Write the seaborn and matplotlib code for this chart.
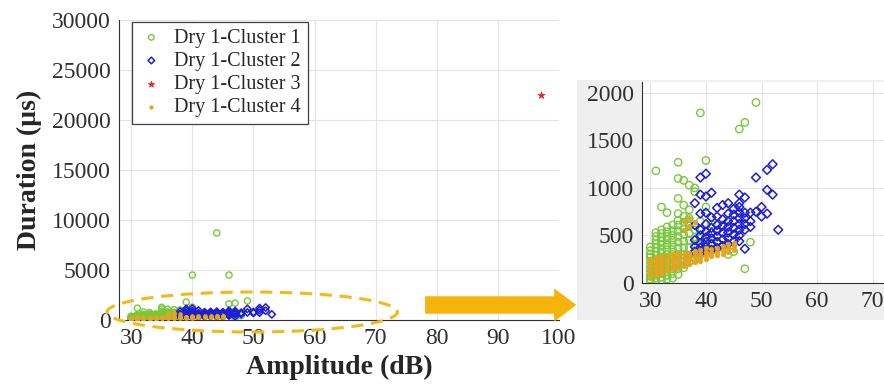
import numpy as np
import pandas as pd
import seaborn as sns
import matplotlib
matplotlib.use("Agg")
import matplotlib.pyplot as plt
from matplotlib.patches import Ellipse, FancyArrowPatch

# Cluster 1 (green circles): amplitude (dB), duration (us)
c1_amp = [44, 40, 46, 49, 39, 46, 47, 31, 35, 40, 35, 36, 37, 38, 38, 32, 33, 35, 35, 36,
          37, 40, 48, 47, 39, 41,
          30, 30, 30, 30, 30, 30, 30, 30, 30, 30, 30,
          31, 31, 31, 31, 31, 31, 31, 31, 31, 31, 31, 31, 31, 31,
          32, 32, 32, 32, 32, 32, 32, 32, 32, 32, 32, 32, 32, 32,
          33, 33, 33, 33, 33, 33, 33, 33, 33, 33, 33, 33, 33,
          34, 34, 34, 34, 34, 34, 34, 34, 34, 34, 34, 34,
          35, 35, 35, 35, 35, 35, 35, 35, 35, 35,
          36, 36, 36, 36, 36, 36, 36, 36, 36,
          37, 37, 37, 37, 37, 37, 37,
          38, 38, 38, 38, 38, 39, 39, 39, 39, 40, 40, 40, 41, 41, 42, 42, 43, 44, 45]
c1_dur = [8700, 4500, 4500, 1900, 1790, 1620, 1690, 1180, 1270, 1290, 1100, 1080, 1030, 1000, 960, 800, 740, 890, 730, 820,
          770, 800, 430, 150, 650, 620,
          10, 40, 70, 110, 150, 190, 230, 270, 300, 340, 380,
          20, 50, 80, 120, 160, 200, 240, 290, 330, 370, 410, 450, 490, 530,
          30, 60, 100, 140, 180, 220, 270, 310, 350, 400, 440, 480, 520, 560,
          40, 80, 120, 160, 210, 250, 300, 350, 400, 450, 490, 540, 590,
          50, 100, 150, 200, 250, 300, 350, 400, 450, 500, 550, 610,
          90, 150, 220, 300, 370, 430, 490, 550, 610, 660,
          160, 230, 300, 370, 440, 510, 570, 640, 700,
          220, 290, 370, 450, 520, 600, 680,
          260, 330, 410, 480, 560, 300, 380, 470, 560, 320, 400, 470, 340, 420, 360, 440, 380, 300, 330]

# Cluster 2 (blue diamonds)
c2_amp = [38, 38, 38, 38, 38,
          39, 39, 39, 39, 39, 39, 39, 39,
          40, 40, 40, 40, 40, 40, 40, 40, 40,
          41, 41, 41, 41, 41, 41, 41,
          42, 42, 42, 42, 42, 42, 42,
          43, 43, 43, 43, 43, 43,
          44, 44, 44, 44, 44, 44, 44,
          45, 45, 45, 45, 45, 45,
          46, 46, 46, 46, 46, 46, 46, 46, 46,
          47, 47, 47, 47, 47, 47,
          48, 48, 48, 49, 49, 50, 50, 51, 51, 51, 52, 52, 53]
c2_dur = [330, 380, 450, 610, 840,
          320, 370, 420, 500, 560, 730, 930, 1110,
          330, 380, 430, 480, 540, 620, 740, 910, 1150,
          350, 410, 470, 530, 580, 690, 950,
          370, 430, 490, 550, 610, 700, 790,
          390, 460, 530, 600, 670, 820,
          410, 470, 530, 590, 650, 730, 840,
          440, 510, 580, 650, 720, 780,
          440, 500, 560, 620, 680, 740, 800, 840, 930,
          360, 560, 620, 680, 740, 900,
          590, 650, 740, 750, 1110, 700, 800, 730, 980, 1190, 930, 1250, 560]

# Cluster 3 (red star)
c3_amp = [97]
c3_dur = [22500]

# Cluster 4 (orange dots)
c4_amp = [30, 30, 30, 30, 30, 30, 31, 31, 31, 31, 31, 31, 32, 32, 32, 32, 32, 32,
          33, 33, 33, 33, 33, 34, 34, 34, 34, 34, 35, 35, 35, 35, 35,
          36, 36, 36, 36, 36, 36, 37, 37, 37, 37, 37, 37, 38, 38, 38, 38, 38,
          39, 39, 39, 39, 40, 40, 40, 40, 41, 41, 41, 42, 42, 42, 43, 43, 43,
          44, 44, 44, 45, 45, 45]
c4_dur = [60, 100, 140, 180, 220, 250, 80, 120, 160, 200, 240, 270, 100, 140, 180, 220, 250, 280,
          130, 170, 210, 250, 290, 150, 180, 220, 260, 300, 170, 200, 240, 280, 320,
          180, 220, 260, 300, 560, 650, 200, 240, 280, 320, 600, 680, 220, 260, 300, 340, 640,
          230, 270, 310, 350, 250, 290, 330, 370, 280, 320, 360, 290, 330, 370, 310, 350, 390,
          330, 370, 410, 350, 390, 420]

labels = ["Dry 1-Cluster 1", "Dry 1-Cluster 2", "Dry 1-Cluster 3", "Dry 1-Cluster 4"]
colors = ["#78C83C", "#1E1ED2", "#E8202A", "#E5A420"]

sns.set_theme(style="whitegrid")
plt.rcParams["font.family"] = ["Liberation Serif", "DejaVu Serif"]

fig = plt.figure(figsize=(8.84, 3.88), dpi=100)
fig.patch.set_facecolor("white")


def style_axes(ax):
    ax.set_facecolor("white")
    for side in ["top", "right"]:
        ax.spines[side].set_visible(False)
    for side in ["left", "bottom"]:
        ax.spines[side].set_color("#303030")
        ax.spines[side].set_linewidth(0.8)
    ax.grid(True, color="#e4e4e4", linewidth=0.8)
    ax.tick_params(direction="in", length=3, width=0.8, colors="#303030",
                   labelsize=17, pad=6)


def draw_clusters(ax, small):
    k = 0.7 if small else 1.0
    sns.scatterplot(x=c1_amp, y=c1_dur, ax=ax, marker="o", s=28 * k,
                    facecolor="none", edgecolor=colors[0], linewidth=1.0,
                    label=labels[0], zorder=3)
    sns.scatterplot(x=c2_amp, y=c2_dur, ax=ax, marker="D", s=20 * k,
                    facecolor="none", edgecolor=colors[1], linewidth=1.1,
                    label=labels[1], zorder=4)
    sns.scatterplot(x=c3_amp, y=c3_dur, ax=ax, marker="*", s=40 * k,
                    color=colors[2], edgecolor=colors[2], linewidth=0.5,
                    label=labels[2], zorder=5)
    sns.scatterplot(x=c4_amp, y=c4_dur, ax=ax, marker="o", s=11 * k,
                    color=colors[3], edgecolor=colors[3], linewidth=0.5,
                    label=labels[3], zorder=5)


# main plot
ax = fig.add_axes([119 / 884, 68 / 388, 440 / 884, 300 / 388])
style_axes(ax)
draw_clusters(ax, small=True)
ax.set_xlim(28, 100)
ax.set_ylim(0, 30000)
ax.set_xticks(range(30, 101, 10))
ax.set_yticks(range(0, 30001, 5000))
ax.set_xlabel("Amplitude (dB)", fontsize=20, fontweight="bold")
ax.set_ylabel("Duration (µs)", fontsize=20, fontweight="bold")
ax.xaxis.set_label_coords(0.5, -0.115)
ax.yaxis.set_label_coords(-0.175, 0.5)

leg = ax.legend(loc="upper left", bbox_to_anchor=(0.03, 0.995), borderaxespad=0,
                fontsize=14.5, frameon=True, fancybox=False, labelspacing=0.2,
                handlelength=1.2, handletextpad=0.55, borderpad=0.35, markerscale=0.9)
leg.get_frame().set_edgecolor("#404040")
leg.get_frame().set_linewidth(0.9)
leg.get_frame().set_facecolor("white")
leg.get_frame().set_alpha(1)

ell = Ellipse((49.8, 800), width=47.5, height=4000, fill=False,
              edgecolor="#F0BA1C", linewidth=2.2, linestyle=(0, (4, 2.5)),
              clip_on=False, zorder=6)
ax.add_patch(ell)

# gray panel behind the zoomed view
bg = fig.add_axes([577 / 884, 68 / 388, 307 / 884, 240 / 388])
bg.set_facecolor("#efefef")
bg.set_xticks([])
bg.set_yticks([])
for s in bg.spines.values():
    s.set_visible(False)

# zoomed view (runs past the right edge, as in the original crop)
ins = fig.add_axes([642 / 884, 105 / 388, 397.5 / 884, 201 / 388])
style_axes(ins)
draw_clusters(ins, small=False)
ins.set_xlim(28.5, 100)
ins.set_ylim(0, 2115)
ins.set_xticks(range(30, 71, 10))
ins.set_yticks(range(0, 2001, 500))
ins.set_xlabel("")
ins.set_ylabel("")
ins.get_legend().remove()

arrow = FancyArrowPatch((423 / 884, 1 - 305 / 388), (578 / 884, 1 - 305 / 388),
                        transform=fig.transFigure,
                        arrowstyle="simple,tail_width=0.55,head_width=1.05,head_length=0.7",
                        mutation_scale=21, color="#F5B30C", zorder=10)
fig.add_artist(arrow)

fig.savefig("out.png", dpi=100)
